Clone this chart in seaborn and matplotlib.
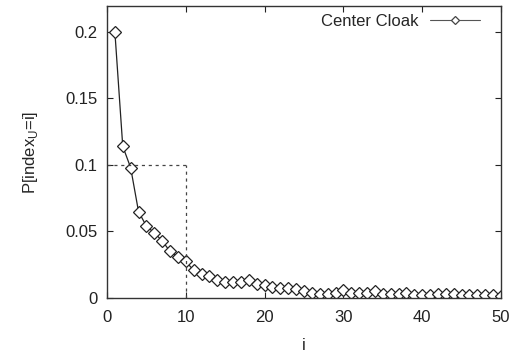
import numpy as np
import pandas as pd
import matplotlib
matplotlib.use("Agg")
import matplotlib.pyplot as plt
import seaborn as sns

# Probability that the user's index equals i, for the Center Cloak scheme
index_i = list(range(1, 51))
prob = [0.200, 0.114, 0.098, 0.065, 0.054, 0.049, 0.043, 0.035, 0.031, 0.0275,
        0.0208, 0.018, 0.0163, 0.0138, 0.0123, 0.0123, 0.0118, 0.0133, 0.0108, 0.0098,
        0.0083, 0.0078, 0.0072, 0.0068, 0.0050, 0.0038, 0.0030, 0.0030, 0.0038, 0.0057,
        0.0038, 0.0038, 0.0038, 0.0050, 0.0030, 0.0030, 0.0030, 0.0038, 0.0023, 0.0020,
        0.0023, 0.0030, 0.0030, 0.0030, 0.0020, 0.0020, 0.0023, 0.0023, 0.0023, 0.0013]
series_name = "Center Cloak"

# Reference cut-off marked by the dotted guide lines
cut_i = 10
cut_p = 0.1

x_ticks = [0, 10, 20, 30, 40, 50]
y_ticks = [0, 0.05, 0.1, 0.15, 0.2]
y_tick_labels = ["0", "0.05", "0.1", "0.15", "0.2"]

df = pd.DataFrame({"i": index_i, "p": prob})

sns.set_style("ticks")
plt.rcParams["font.family"] = ["Liberation Sans", "DejaVu Sans"]
plt.rcParams["mathtext.fontset"] = "custom"
plt.rcParams["mathtext.rm"] = "Liberation Sans"

FS = 12

fig = plt.figure(figsize=(5.15, 3.54), dpi=100)
ax = fig.add_axes([107 / 515, 1 - 298 / 354, (501 - 107) / 515, (298 - 6) / 354])

sns.lineplot(data=df, x="i", y="p", ax=ax, color="#222222", linewidth=0.9,
             marker="D", markersize=5.8, markerfacecolor="white",
             markeredgecolor="#222222", markeredgewidth=0.9, label=series_name)

ax.plot([0, cut_i], [cut_p, cut_p], color="#444444", linestyle=(0, (2.5, 3)), linewidth=0.9)
ax.plot([cut_i, cut_i], [0, cut_p], color="#444444", linestyle=(0, (2.5, 3)), linewidth=0.9)

ax.set_xlim(0, 50)
ax.set_ylim(0, 0.2195)
ax.set_xticks(x_ticks)
ax.set_yticks(y_ticks)
ax.set_yticklabels(y_tick_labels)
ax.tick_params(direction="in", top=True, right=True, length=4, width=0.8,
               labelsize=FS, colors="#222222")
ax.tick_params(axis="x", pad=9)
ax.tick_params(axis="y", pad=7)
for s in ax.spines.values():
    s.set_color("#333333")
    s.set_linewidth(1.0)

ax.set_xlabel("i", fontsize=FS, labelpad=9)
ax.set_ylabel(r"P[index$_\mathregular{U}$=i]", fontsize=FS, labelpad=18)

leg = ax.legend(loc="upper right", frameon=False, markerfirst=False,
                fontsize=FS, handlelength=3.0, handletextpad=0.7,
                borderaxespad=0.1, bbox_to_anchor=(0.968, 1.0))
for h in leg.legend_handles:
    h.set_markersize(4)
    h.set_linewidth(0.8)
    h.set_color("#555555")
    h.set_markeredgecolor("#444444")

fig.savefig("out.png", dpi=100)
